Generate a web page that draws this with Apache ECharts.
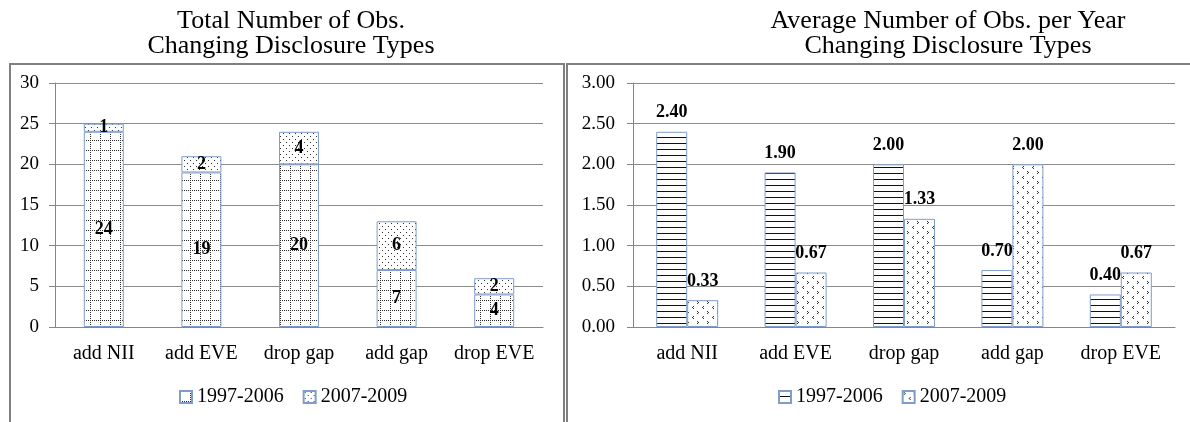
<!DOCTYPE html>
<html>
<head>
<meta charset="utf-8">
<script src="https://cdn.jsdelivr.net/npm/echarts@6/dist/echarts.min.js"></script>
<style>
html,body{margin:0;padding:0;background:#fff;}
#a{position:absolute;left:0;top:0;width:566px;height:422px;}
#b{position:absolute;left:566px;top:0;width:624px;height:422px;}
</style>
</head>
<body>
<div id="a"></div>
<div id="b"></div>
<script>
const categories = ['add NII', 'add EVE', 'drop gap', 'add gap', 'drop EVE'];
const seriesNames = ['1997-2006', '2007-2009'];
const totalEarly = [24, 19, 20, 7, 4];
const totalLate = [1, 2, 4, 6, 2];
const avgEarly = [2.40, 1.90, 2.00, 0.70, 0.40];
const avgLate = [0.33, 0.67, 1.33, 2.00, 0.67];
const leftTitle = 'Total Number of Obs.\nChanging Disclosure Types';
const rightTitle = 'Average Number of Obs. per Year\nChanging Disclosure Types';

function makeCanvas(w, h, draw) {
  const c = document.createElement('canvas');
  c.width = w; c.height = h;
  const g = c.getContext('2d');
  g.fillStyle = '#ffffff';
  g.fillRect(0, 0, w, h);
  draw(g);
  return c;
}
const gridPat = makeCanvas(10, 10, g => {
  g.fillStyle = '#2a2a2a';
  for (let i = 0; i < 10; i += 2) { g.fillRect(0, i, 1, 1); g.fillRect(i, 0, 1, 1); }
});
const dotPat = makeCanvas(6, 6, g => {
  g.fillStyle = '#333';
  g.fillRect(1, 1, 1, 1);
  g.fillRect(4, 4, 1, 1);
});
const linePat = makeCanvas(6, 6, g => {
  g.fillStyle = '#111';
  g.fillRect(0, 5, 6, 1);
});
const chevPat = makeCanvas(10, 10, g => {
  g.fillStyle = '#333';
  g.fillRect(1, 1, 1, 1); g.fillRect(2, 2, 1, 1); g.fillRect(1, 3, 1, 1);
  g.fillRect(7, 6, 1, 1); g.fillRect(6, 7, 1, 1); g.fillRect(7, 8, 1, 1);
});
const pat = c => ({ image: c, repeat: 'repeat' });

const FONT = 'Liberation Serif';
const BORDER = '#7f9dcc';
const AXIS = '#868686';
const GRID = '#8c8c8c';

function axisX() {
  return {
    type: 'category', data: categories,
    axisLine: { lineStyle: { color: AXIS, width: 1 } },
    axisTick: { length: 6, lineStyle: { color: AXIS } },
    axisLabel: { color: '#000', fontFamily: FONT, fontSize: 20, margin: 17, interval: 0 },
    splitLine: { show: false }
  };
}
function axisY(max, interval, margin, fmt) {
  return {
    type: 'value', min: 0, max: max, interval: interval,
    axisLine: { show: true, lineStyle: { color: AXIS, width: 1 } },
    axisTick: { show: true, length: 6, lineStyle: { color: AXIS } },
    axisLabel: { color: '#000', fontFamily: FONT, fontSize: 19, margin: margin, formatter: fmt },
    splitLine: { lineStyle: { color: GRID, width: 1 } }
  };
}
function titleText(x, text) {
  return {
    type: 'text', x: x, y: 9,
    style: { text: text, fontFamily: FONT, fontSize: 26, lineHeight: 25, fill: '#000', align: 'center' }
  };
}
const labelStyle = { color: '#000', fontFamily: FONT, fontSize: 18, fontWeight: 'bold' };

const chartA = echarts.init(document.getElementById('a'), null, { renderer: 'canvas' });
chartA.setOption({
  animation: false,
  backgroundColor: '#fff',
  graphic: [
    titleText(291, leftTitle),
    { type: 'rect', shape: { x: 10, y: 64, width: 554, height: 420 }, style: { fill: 'none', stroke: '#7f7f7f', lineWidth: 2 } }
  ],
  legend: {
    left: 174, top: 382, itemWidth: 12, itemHeight: 12, itemGap: 19,
    icon: 'rect',
    textStyle: { color: '#000', fontFamily: FONT, fontSize: 20 },
    data: seriesNames
  },
  grid: { left: 55, top: 83, width: 488, height: 244 },
  xAxis: axisX(),
  yAxis: axisY(30, 5, 16),
  series: [
    {
      name: seriesNames[0], type: 'bar', stack: 't', data: totalEarly, barWidth: 40,
      itemStyle: { color: pat(gridPat), borderColor: BORDER, borderWidth: 1 },
      label: Object.assign({ show: true, position: 'inside' }, labelStyle),
      emphasis: { disabled: true }
    },
    {
      name: seriesNames[1], type: 'bar', stack: 't', data: totalLate, barWidth: 40,
      itemStyle: { color: pat(dotPat), borderColor: BORDER, borderWidth: 1 },
      label: Object.assign({ show: true, position: 'inside' }, labelStyle),
      emphasis: { disabled: true }
    }
  ]
});

const chartB = echarts.init(document.getElementById('b'), null, { renderer: 'canvas' });
const fmt2 = v => Number(v).toFixed(2);
chartB.setOption({
  animation: false,
  backgroundColor: '#fff',
  graphic: [
    titleText(382, rightTitle),
    { type: 'rect', shape: { x: 1, y: 64, width: 700, height: 420 }, style: { fill: 'none', stroke: '#7f7f7f', lineWidth: 2 } }
  ],
  legend: {
    left: 207, top: 382, itemWidth: 12, itemHeight: 12, itemGap: 19,
    icon: 'rect',
    textStyle: { color: '#000', fontFamily: FONT, fontSize: 20 },
    data: seriesNames
  },
  grid: { left: 67, top: 83, width: 542, height: 244 },
  xAxis: axisX(),
  yAxis: axisY(3, 0.5, 18, fmt2),
  series: [
    {
      name: seriesNames[0], type: 'bar', data: avgEarly, barWidth: 31, barGap: '0%',
      itemStyle: { color: pat(linePat), borderColor: BORDER, borderWidth: 1 },
      label: Object.assign({ show: true, position: 'top', distance: 10, formatter: p => fmt2(p.value) }, labelStyle),
      emphasis: { disabled: true }
    },
    {
      name: seriesNames[1], type: 'bar', data: avgLate, barWidth: 31, barGap: '0%',
      itemStyle: { color: pat(chevPat), borderColor: BORDER, borderWidth: 1 },
      label: Object.assign({ show: true, position: 'top', distance: 10, formatter: p => fmt2(p.value) }, labelStyle),
      emphasis: { disabled: true }
    }
  ]
});
</script>
</body>
</html>
